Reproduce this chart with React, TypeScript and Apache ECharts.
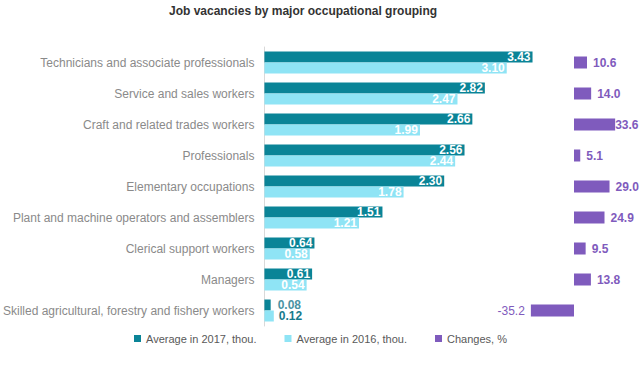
import React, { useEffect, useRef } from "react";
import * as echarts from "echarts";

const categories = [
  "Technicians and associate professionals",
  "Service and sales workers",
  "Craft and related trades workers",
  "Professionals",
  "Elementary occupations",
  "Plant and machine operators and assemblers",
  "Clerical support workers",
  "Managers",
  "Skilled agricultural, forestry and fishery workers",
];
const avg2017 = [3.43, 2.82, 2.66, 2.56, 2.3, 1.51, 0.64, 0.61, 0.08];
const avg2016 = [3.1, 2.47, 1.99, 2.44, 1.78, 1.21, 0.58, 0.54, 0.12];
const changes = [10.6, 14.0, 33.6, 5.1, 29.0, 24.9, 9.5, 13.8, -35.2];

const seriesNames = ["Average in 2017, thou.", "Average in 2016, thou.", "Changes, %"];
const colors = ["#0a8497", "#8fe4f5", "#7f5bbd"];
const FONT = "Liberation Sans, Arial, sans-serif";

export default function App() {
  const ref = useRef<HTMLDivElement>(null);
  useEffect(() => {
    document.body.style.margin = "0";
    const chart = echarts.init(ref.current!, null, { renderer: "svg" });
    const insideLabel = {
      show: true,
      position: "insideRight",
      distance: 2,
      color: "#ffffff",
      fontWeight: "bold",
      fontSize: 12,
      fontFamily: FONT,
      formatter: (p: any) => p.value.toFixed(2),
    };
    const d2017 = avg2017.map((v) =>
      v < 0.3
        ? { value: v, label: { position: "right", distance: 7, color: "#4a93a3" } }
        : v
    );
    const d2016 = avg2016.map((v) =>
      v < 0.3
        ? { value: v, label: { position: "right", distance: 5, color: "#177a8c" } }
        : v
    );
    const dChanges = changes.map((v) =>
      v < 0
        ? { value: v, label: { position: "left", distance: 6, fontWeight: "normal" } }
        : v > 30
        ? { value: v, label: { distance: 0 } }
        : v
    );
    chart.setOption({
      animation: false,
      textStyle: { fontFamily: FONT },
      title: {
        text: "Job vacancies by major occupational grouping",
        left: 164,
        top: 0,
        textStyle: { fontSize: 12, fontWeight: "bold", color: "#333333", fontFamily: FONT },
      },
      legend: {
        left: 129,
        top: 328,
        icon: "rect",
        itemWidth: 7,
        itemHeight: 7,
        itemGap: 28,
        textStyle: { fontSize: 11, color: "#595959", fontFamily: FONT },
        data: seriesNames,
      },
      grid: [
        { left: 264, width: 274, top: 47, height: 279 },
        { left: 525, width: 98, top: 47, height: 279 },
      ],
      xAxis: [
        { gridIndex: 0, type: "value", min: 0, max: 3.5, show: false },
        { gridIndex: 1, type: "value", min: -40, max: 40, show: false },
      ],
      yAxis: [
        {
          gridIndex: 0,
          type: "category",
          data: categories,
          inverse: true,
          axisLine: { show: true, lineStyle: { color: "#d9d9d9" } },
          axisTick: { show: false },
          axisLabel: { color: "#8a8a8a", fontSize: 12, margin: 10, fontFamily: FONT },
        },
        {
          gridIndex: 1,
          type: "category",
          data: categories,
          inverse: true,
          show: false,
        },
      ],
      series: [
        {
          name: seriesNames[0],
          type: "bar",
          xAxisIndex: 0,
          yAxisIndex: 0,
          data: d2017,
          barWidth: 11,
          barGap: "0%",
          itemStyle: { color: colors[0] },
          label: insideLabel,
        },
        {
          name: seriesNames[1],
          type: "bar",
          xAxisIndex: 0,
          yAxisIndex: 0,
          data: d2016,
          barWidth: 11,
          barGap: "0%",
          itemStyle: { color: colors[1] },
          label: insideLabel,
        },
        {
          name: seriesNames[2],
          type: "bar",
          xAxisIndex: 1,
          yAxisIndex: 1,
          data: dChanges,
          barWidth: 12,
          itemStyle: { color: colors[2] },
          label: {
            show: true,
            position: "right",
            distance: 6,
            color: colors[2],
            fontWeight: "bold",
            fontSize: 12,
            fontFamily: FONT,
            formatter: (p: any) => p.value.toFixed(1),
          },
        },
      ],
    });
    return () => chart.dispose();
  }, []);
  return <div ref={ref} style={{ width: 644, height: 377 }} />;
}
